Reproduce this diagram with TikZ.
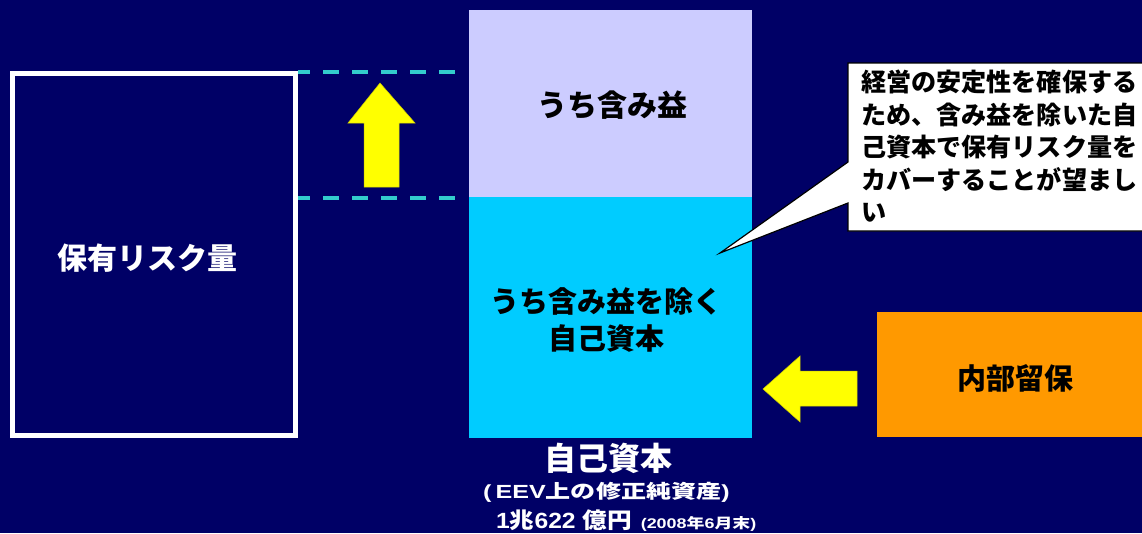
\documentclass[tikz,border=0pt]{standalone}
\usepackage{fontspec}
\newfontfamily\cjk{Noto Sans CJK JP}
\newfontfamily\lat{Liberation Sans}
\definecolor{bg}{RGB}{0,0,102}
\definecolor{lav}{RGB}{204,204,255}
\definecolor{skyc}{RGB}{0,204,255}
\definecolor{orng}{RGB}{255,153,0}
\definecolor{dashc}{RGB}{51,204,204}
\definecolor{yel}{RGB}{255,255,0}
\tikzset{
  jp/.style={font=\cjk\bfseries},
  barbox/.style={rectangle, draw=none, inner sep=0pt},
  boxtext/.style={inner sep=0pt, align=center, text=black},
  guide/.style={dashc, line width=3.5pt, dash pattern=on 16pt off 13pt},
  bigarrow/.style={fill=yel, draw=yel!80!black, line width=0.5pt},
}
\begin{document}
\begin{tikzpicture}[x=1pt,y=-1pt]
\fill[bg] (0,0) rectangle (1142,533);
\useasboundingbox (0,0) rectangle (1142,533);

% left risk box
\node[rectangle, draw=white, line width=5pt, minimum width=283pt, minimum height=362pt,
      inner sep=0pt] (risk) at (154,254.5) {};
\node[boxtext, text=white, font=\cjk\bfseries\fontsize{30}{34}\selectfont]
      (risktxt) at (147.5,258) {保有リスク量};

% stacked bars
\node[barbox, fill=lav, minimum width=283pt, minimum height=187pt] (gain) at (610.5,103.5) {};
\node[boxtext, font=\cjk\bfseries\fontsize{30}{34}\selectfont] (gaintxt) at (612,105) {うち含み益};
\node[barbox, fill=skyc, minimum width=283pt, minimum height=241pt] (core) at (610.5,317.5) {};
\node[boxtext, font=\cjk\bfseries\fontsize{29}{37}\selectfont] (coretxt) at (606,320.5) {うち含み益を除く\\自己資本};

% dashed guides
\coordinate (g1) at (455,72);
\coordinate (g2) at (455,198);
\draw[guide, dash phase=4pt] (risk.north east |- 0,72) -- (g1);
\draw[guide, dash phase=4pt] (risk.north east |- 0,198) -- (g2);

% up arrow
\fill[bigarrow] (380,83) -- (415,123) -- (399,123) -- (399,187) -- (364,187) -- (364,123) -- (348,123) -- cycle;

% callout
\draw[fill=white, draw=black, line width=1.2pt]
  (848,63) -- (1150,63) -- (1150,231) -- (848,231) -- (848,203) -- (720,253) -- (848,162) -- cycle;
\node[anchor=north west, inner sep=0pt, align=left, text=black,
      font=\cjk\bfseries\fontsize{25.1}{32.5}\selectfont] (note) at (861,70)
  {経営の安定性を確保する\\ため、含み益を除いた自\\己資本で保有リスク量を\\カバーすることが望まし\\い};

% retained earnings
\node[barbox, fill=orng, minimum width=273pt, minimum height=125pt] (ret) at (1013.5,374.5) {};
\node[boxtext, font=\cjk\bfseries\fontsize{29}{34}\selectfont] (rettxt) at (1015,378.5) {内部留保};

% left arrow
\fill[bigarrow] (763,389) -- (800,356) -- (800,371) -- (857,371) -- (857,406) -- (800,406) -- (800,422) -- cycle;

% bottom labels
\node[text=white, inner sep=0pt, font=\cjk\bfseries\fontsize{32}{36}\selectfont] (cap1) at (608,458) {自己資本};
\node[text=white, inner sep=0pt, anchor=base, font=\cjk\bfseries\fontsize{19}{22}\selectfont] (cap2) at (606.5,498)
  {\scalebox{1.32}[1]{{\lat\bfseries (\,EEV}上の修正純資産{\lat\bfseries )}}};
\node[text=white, inner sep=0pt, anchor=base west, font=\cjk\bfseries\fontsize{22}{26}\selectfont] (cap3) at (496,528)
  {\scalebox{1.12}[1]{{\lat\bfseries 1}兆{\lat\bfseries 622 }億円}\hspace{9pt}\scalebox{1.28}[1]{\fontsize{14}{16}\selectfont{\lat\bfseries (2008}年{\lat\bfseries 6}月末{\lat\bfseries )}}};
\end{tikzpicture}
\end{document}
